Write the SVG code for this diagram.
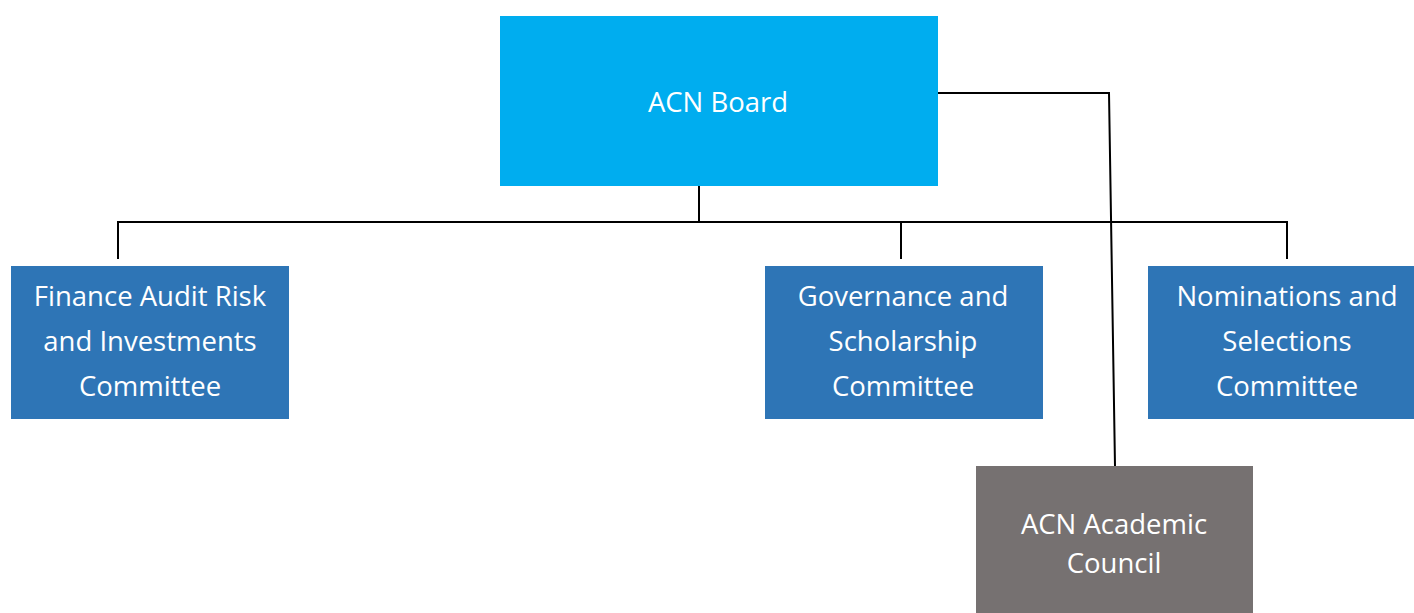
<svg xmlns="http://www.w3.org/2000/svg" width="1414" height="613" viewBox="0 0 1414 613">
<style>
.t{font-family:"Open Sans","Noto Sans",sans-serif;font-size:27.5px;fill:#ffffff;text-anchor:middle}
.c{fill:none;stroke:#000;stroke-width:2}
</style>
<rect width="1414" height="613" fill="#ffffff"/>
<g id="connectors">
<path class="c" d="M699 186 V222 M118 259 V222 H1287 V259 M901 222 V259"/>
<path class="c" d="M938 93 H1109 L1115 466"/>
</g>
<g id="board">
<rect x="500" y="16" width="438" height="170" fill="#00ADEF"/>
<text class="t" x="718" y="112">ACN Board</text>
</g>
<g id="finance">
<rect x="11" y="266" width="278" height="153" fill="#2E75B6"/>
<text class="t" x="150" y="306">Finance Audit Risk</text>
<text class="t" x="150" y="351">and Investments</text>
<text class="t" x="150" y="396">Committee</text>
</g>
<g id="governance">
<rect x="765" y="266" width="278" height="153" fill="#2E75B6"/>
<text class="t" x="903" y="306">Governance and</text>
<text class="t" x="903" y="351">Scholarship</text>
<text class="t" x="903" y="396">Committee</text>
</g>
<g id="nominations">
<rect x="1148" y="266" width="278" height="153" fill="#2E75B6"/>
<text class="t" x="1287" y="306">Nominations and</text>
<text class="t" x="1287" y="351">Selections</text>
<text class="t" x="1287" y="396">Committee</text>
</g>
<g id="academic">
<rect x="976" y="466" width="277" height="160" fill="#767171"/>
<text class="t" x="1114" y="534">ACN Academic</text>
<text class="t" x="1114" y="573">Council</text>
</g>
</svg>
